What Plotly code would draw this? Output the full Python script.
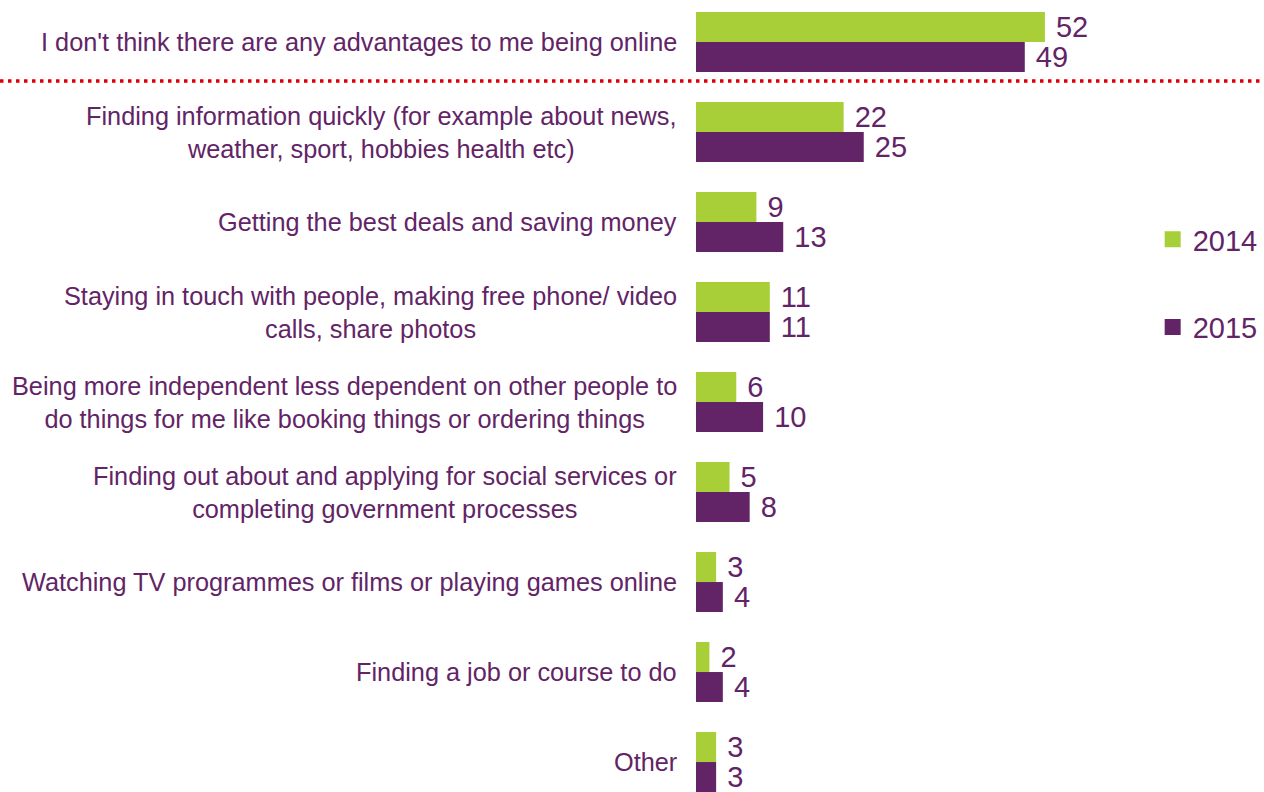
import plotly.graph_objects as go

categories = [
    "I don't think there are any advantages to me being online",
    "Finding information quickly (for example about news,<br>weather, sport, hobbies health etc)",
    "Getting the best deals and saving money",
    "Staying in touch with people, making free phone/ video<br>calls, share photos",
    "Being more independent less dependent on other people to<br>do things for me like booking things or ordering things",
    "Finding out about and applying for social services or<br>completing government processes",
    "Watching TV programmes or films or playing games online",
    "Finding a job or course to do",
    "Other",
]
values_2014 = [52, 22, 9, 11, 6, 5, 3, 2, 3]
values_2015 = [49, 25, 13, 11, 10, 8, 4, 4, 3]
series_names = ["2014", "2015"]

GREEN = "#A8CF38"
PURPLE = "#622466"
FONT = "Liberation Sans, Arial, sans-serif"

W, H = 1264, 792
L, R = 696, 166
plot_w = W - L - R

fig = go.Figure()
for name, vals, col in [(series_names[0], values_2014, GREEN), (series_names[1], values_2015, PURPLE)]:
    fig.add_trace(go.Bar(
        y=categories, x=vals, orientation="h", name=name,
        marker=dict(color=col, line=dict(width=0)),
        text=vals, texttemplate=" %{text}", textposition="outside",
        textfont=dict(size=29, color=PURPLE, family=FONT),
        constraintext="none", cliponaxis=False, showlegend=False,
    ))
# legend entries
for i, (name, col) in enumerate([(series_names[0], GREEN), (series_names[1], PURPLE)]):
    fig.add_trace(go.Scatter(
        x=[None], y=[None], mode="markers", name=name,
        marker=dict(symbol="square", size=16, color=col),
        legendgroup=f"g{i}", showlegend=True,
    ))

# category labels (centered multi-line)
for c in categories:
    fig.add_annotation(
        x=-17 / plot_w, xref="paper", y=c, yref="y",
        text=c, showarrow=False, xanchor="right", yanchor="middle",
        align="center", font=dict(size=25.3, color=PURPLE, family=FONT),
    )

# red dotted separator
fig.add_shape(
    type="line", xref="paper", yref="y",
    x0=-L / plot_w, x1=(W - L) / plot_w, y0=0.433, y1=0.433,
    line=dict(color="#E00000", width=3.5, dash="3.5px,4.5px"),
)

fig.update_layout(
    width=W, height=H,
    margin=dict(l=L, r=R, t=0, b=0),
    paper_bgcolor="white", plot_bgcolor="white",
    barmode="group", bargap=1/3, bargroupgap=0,
    font=dict(family=FONT, color=PURPLE),
    xaxis=dict(range=[0, plot_w / 6.71], visible=False, showgrid=False, zeroline=False),
    yaxis=dict(type="category", categoryorder="array", categoryarray=categories,
               range=[8.333, -0.467], showticklabels=False, showgrid=False,
               zeroline=False, ticks=""),
    legend=dict(x=1.136, xanchor="left", y=1 - 214 / H, yanchor="top",
                font=dict(size=29, color=PURPLE, family=FONT),
                tracegroupgap=47, bgcolor="rgba(0,0,0,0)"),
)

fig.write_html("out.html", config={"displayModeBar": False},
               post_script="document.body.style.margin='0';")
